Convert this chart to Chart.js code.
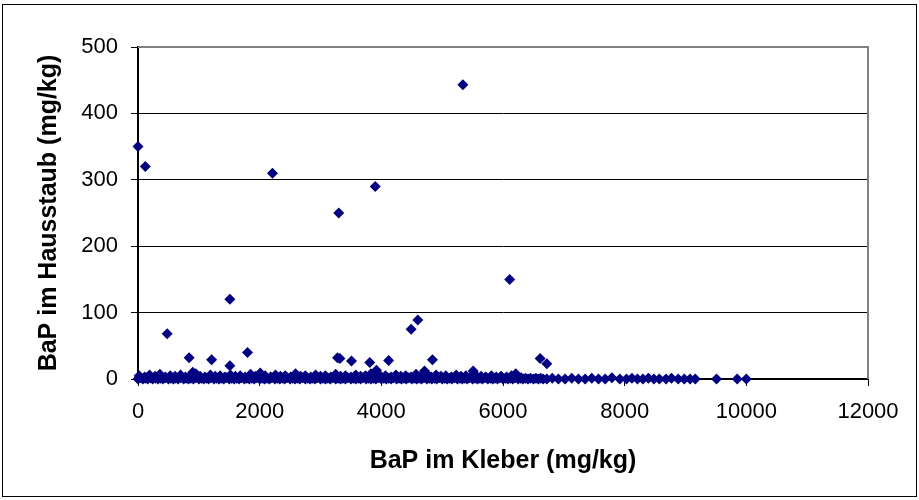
<!DOCTYPE html>
<html>
<head>
<meta charset="utf-8">
<script src="https://cdn.jsdelivr.net/npm/chart.js@4/dist/chart.umd.min.js"></script>
<style>
  html, body { margin: 0; padding: 0; background: #fff; }
  #wrap { width: 919px; height: 500px; position: relative; }
</style>
</head>
<body>
<div id="wrap"><canvas id="chart" width="919" height="500"></canvas></div>
<script>
// Achsen
const X_TICKS = [0, 2000, 4000, 6000, 8000, 10000, 12000];
const Y_TICKS = [0, 100, 200, 300, 400, 500];
const X_TITLE = 'BaP im Kleber (mg/kg)';
const Y_TITLE = 'BaP im Hausstaub (mg/kg)';

// Einzelwerte über dem Band [Kleber, Hausstaub]
const outliers = [
    [0, 350], [120, 320], [2210, 310], [3300, 250], [3900, 290], [5340, 443],
    [6110, 150], [1510, 120], [480, 68], [1800, 40], [840, 32], [1210, 29],
    [1510, 20], [3320, 31], [3280, 32], [3510, 27], [3810, 25], [4120, 28],
    [4840, 29], [6610, 31], [6720, 23], [5510, 12], [3920, 13], [4710, 12],
    [6210, 8], [4490, 75], [4600, 89], [900, 10], [950, 8]
];

// dichtes Band nahe 0
const bandLow = [
    [0,0],[40,2],[80,0],[120,1],[160,0],[200,2],[240,0],[290,1],[330,0],[370,1],[410,0],[450,2],
    [500,0],[540,1],[580,0],[620,1],[660,0],[700,2],[750,0],[790,1],[830,0],[870,1],[910,0],[950,2],
    [1000,0],[1040,1],[1080,0],[1120,1],[1160,0],[1200,2],[1250,0],[1290,1],[1330,0],[1370,1],[1410,0],[1450,2],
    [1500,0],[1540,1],[1580,0],[1620,1],[1660,0],[1700,2],[1750,0],[1790,1],[1830,0],[1870,1],[1910,0],[1950,2],
    [2000,0],[2040,1],[2080,0],[2120,1],[2160,0],[2200,2],[2250,0],[2290,1],[2330,0],[2370,1],[2410,0],[2450,2],
    [2500,0],[2540,1],[2580,0],[2620,1],[2660,0],[2700,2],[2750,0],[2790,1],[2830,0],[2870,1],[2910,0],[2950,2],
    [3000,0],[3040,1],[3080,0],[3120,1],[3160,0],[3200,2],[3250,0],[3290,1],[3330,0],[3370,1],[3410,0],[3450,2],
    [3500,0],[3540,1],[3580,0],[3620,1],[3660,0],[3700,2],[3750,0],[3790,1],[3830,0],[3870,1],[3910,0],[3950,2],
    [4000,0],[4040,1],[4080,0],[4120,1],[4160,0],[4200,2],[4250,0],[4290,1],[4330,0],[4370,1],[4410,0],[4450,2],
    [4500,0],[4540,1],[4580,0],[4620,1],[4660,0],[4700,2],[4750,0],[4790,1],[4830,0],[4870,1],[4910,0],[4950,2],
    [5000,0],[5040,1],[5080,0],[5120,1],[5160,0],[5200,2],[5250,0],[5290,1],[5330,0],[5370,1],[5410,0],[5450,2],
    [5500,0],[5540,1],[5580,0],[5620,1],[5660,0],[5700,2],[5750,0],[5790,1],[5830,0],[5870,1],[5910,0],[5950,2],
    [6000,0],[6040,1],[6080,0],[6120,1],[6160,0],[6200,2],[6250,0],[6290,1],[6330,0],[6370,1],[6410,0],[6450,1],
    [6500,0],[6540,1],[6580,0],[6620,1],[6660,0]
];

const bandHigh = [
    [20,5],[110,3],[190,6],[280,4],[360,7],[450,3],[530,5],[610,4],[700,6],[780,3],[860,5],[940,7],
    [1020,4],[1100,3],[1190,6],[1270,4],[1350,5],[1430,3],[1520,6],[1600,4],[1680,5],[1760,3],[1850,7],[1930,4],
    [2010,9],[2090,5],[2180,3],[2260,6],[2340,4],[2420,5],[2510,3],[2590,8],[2670,4],[2750,5],[2840,3],[2920,6],
    [3000,4],[3080,5],[3170,3],[3250,7],[3330,4],[3410,5],[3500,3],[3580,6],[3660,4],[3740,5],[3830,8],[3910,6],
    [3990,4],[4070,5],[4160,3],[4240,6],[4320,4],[4400,5],[4490,3],[4570,7],[4650,4],[4730,9],[4820,3],[4900,6],
    [4980,4],[5060,5],[5150,3],[5230,6],[5310,4],[5390,5],[5480,3],[5560,5],[5640,4],[5720,3],[5810,5],[5890,3],
    [5970,4],[6060,3],[6140,5],[6220,3],[6300,2]
];

// rechter Ausläufer
const tail = [
    [6720,0],[6810,1],[6910,0],[7020,0],[7130,1],[7240,0],[7350,0],[7460,1],[7570,0],[7680,0],
    [7790,2],[7920,0],[8030,0],[8120,1],[8210,0],[8300,0],[8390,1],[8480,0],[8570,0],[8680,0],
    [8770,1],[8880,0],[8980,0],[9075,0],[9160,0],[9510,0],[9850,0],[10000,0]
];

const NAVY = '#000080';
const FONT = "'Liberation Sans', Arial, sans-serif";

function toPoints(list) {
    return list.map(p => ({ x: p[0], y: p[1] }));
}

// weisser Hintergrund + Rahmen um das ganze Diagramm
const framePlugin = {
    id: 'frame',
    beforeDraw(chart) {
        const ctx = chart.ctx;
        ctx.save();
        ctx.fillStyle = '#fff';
        ctx.fillRect(0, 0, chart.width, chart.height);
        ctx.strokeStyle = '#000';
        ctx.lineWidth = 1;
        ctx.strokeRect(2.5, 4.5, 914, 492);
        ctx.restore();
    },
    beforeDatasetsDraw(chart) {
        // grauer Rahmen der Zeichenfläche (oben / rechts)
        const a = chart.chartArea;
        const ctx = chart.ctx;
        ctx.save();
        ctx.strokeStyle = '#808080';
        ctx.lineWidth = 2;
        ctx.beginPath();
        ctx.moveTo(a.left, a.top);
        ctx.lineTo(a.right, a.top);
        ctx.lineTo(a.right, a.bottom);
        ctx.stroke();
        ctx.restore();
    }
};

const pointStyle = {
    pointStyle: 'rectRot',
    pointRadius: 5.5,
    pointHoverRadius: 5.5,
    backgroundColor: NAVY,
    borderColor: NAVY,
    borderWidth: 0,
    clip: false
};

new Chart(document.getElementById('chart'), {
    type: 'scatter',
    data: {
        datasets: [
            Object.assign({ label: 'Band', data: toPoints(bandLow.concat(bandHigh)) }, pointStyle),
            Object.assign({ label: 'Tail', data: toPoints(tail) }, pointStyle),
            Object.assign({ label: 'Einzelwerte', data: toPoints(outliers) }, pointStyle)
        ]
    },
    options: {
        responsive: false,
        animation: false,
        events: [],
        layout: { padding: { left: 34, top: 47, right: 51, bottom: 24 } },
        plugins: {
            legend: { display: false },
            tooltip: { enabled: false }
        },
        scales: {
            x: {
                type: 'linear',
                min: 0,
                max: 12000,
                afterBuildTicks: s => { s.ticks = X_TICKS.map(v => ({ value: v })); },
                afterFit: s => { s.height = 97; },
                grid: {
                    drawOnChartArea: false,
                    drawTicks: true,
                    tickLength: 7,
                    tickColor: '#000'
                },
                border: { display: true, color: '#000', width: 2 },
                ticks: {
                    color: '#000',
                    padding: 13,
                    maxRotation: 0,
                    callback: v => String(v),
                    font: { family: FONT, size: 22 }
                },
                title: {
                    display: true,
                    text: X_TITLE,
                    color: '#000',
                    padding: 0,
                    font: { family: FONT, size: 25, weight: 'bold' }
                }
            },
            y: {
                type: 'linear',
                min: 0,
                max: 500,
                afterBuildTicks: s => { s.ticks = Y_TICKS.map(v => ({ value: v })); },
                afterFit: s => { s.width = 104; },
                grid: {
                    color: '#000',
                    lineWidth: 1,
                    drawTicks: true,
                    tickLength: 7,
                    tickColor: '#000'
                },
                border: { display: true, color: '#000', width: 2 },
                ticks: {
                    color: '#000',
                    padding: 13,
                    callback: v => String(v),
                    font: { family: FONT, size: 22 }
                },
                title: {
                    display: true,
                    text: Y_TITLE,
                    color: '#000',
                    padding: 0,
                    font: { family: FONT, size: 25, weight: 'bold' }
                }
            }
        }
    },
    plugins: [framePlugin]
});
</script>
</body>
</html>
